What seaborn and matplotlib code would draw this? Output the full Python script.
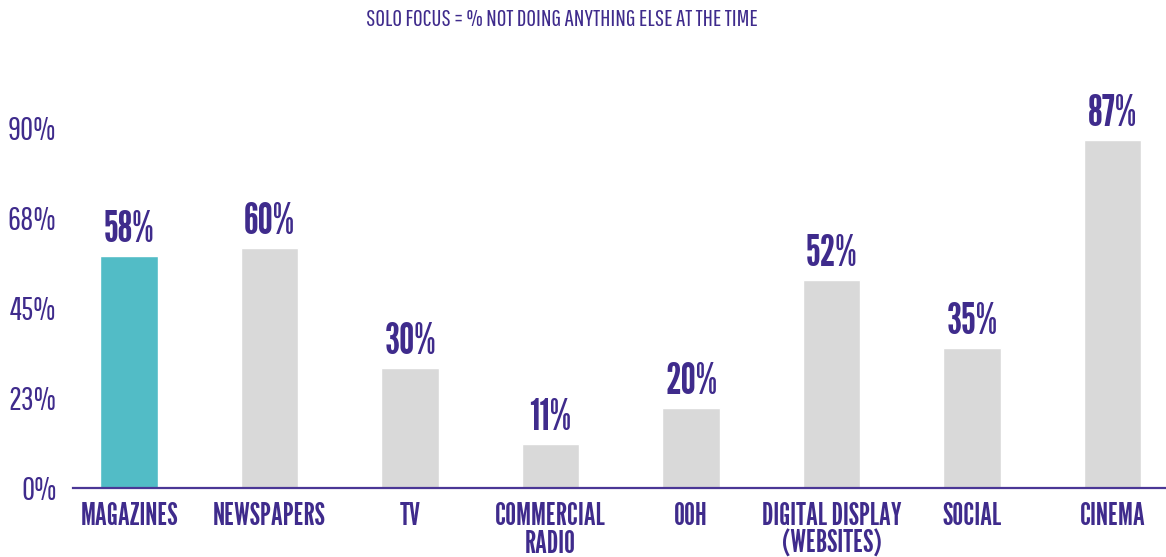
import matplotlib
matplotlib.use("Agg")
import matplotlib.pyplot as plt
import seaborn as sns
import pandas as pd

categories = ["MAGAZINES", "NEWSPAPERS", "TV", "COMMERCIAL\nRADIO", "OOH",
              "DIGITAL DISPLAY\n(WEBSITES)", "SOCIAL", "CINEMA"]
solo_focus = [58, 60, 30, 11, 20, 52, 35, 87]
tick_values = [0, 22.5, 45, 67.5, 90]
tick_labels = ["0%", "23%", "45%", "68%", "90%"]
title = "SOLO FOCUS = % NOT DOING ANYTHING ELSE AT THE TIME"

PURPLE = "#3f2b8c"
TEAL = "#52bcc6"
GREY = "#d9d9d9"

BOLD_FONT = ["League Gothic", "DejaVu Sans"]
LIGHT_FONT = ["Pathway Gothic One", "DejaVu Sans"]

sns.set_style("white")
plt.rcParams["font.family"] = LIGHT_FONT

df = pd.DataFrame({"medium": categories, "focus": solo_focus})
palette = {c: (TEAL if i == 0 else GREY) for i, c in enumerate(categories)}

fig = plt.figure(figsize=(11.66, 5.57), dpi=100)
ax = fig.add_axes([0.0626, 0.1239, 0.9374, 0.668])

sns.barplot(data=df, x="medium", y="focus", hue="medium", palette=palette,
            width=0.41, legend=False, ax=ax, saturation=1)

for i, v in enumerate(solo_focus):
    ax.text(i, v + 1.6, f"{v}%", ha="center", va="bottom", color=PURPLE,
            fontsize=31, family=BOLD_FONT, clip_on=False)

ax.set_xlim(-0.4, 7.38)
ax.set_ylim(0, 93)
ax.set_yticks(tick_values)
ax.set_yticklabels(tick_labels)
ax.set_xlabel("")
ax.set_ylabel("")

for s in ["top", "right", "left"]:
    ax.spines[s].set_visible(False)
ax.spines["bottom"].set_color("#4b3796")
ax.spines["bottom"].set_linewidth(1.6)

ax.tick_params(axis="y", length=0, pad=12, labelsize=23, labelcolor=PURPLE)
ax.tick_params(axis="x", length=0, pad=10, labelsize=22, labelcolor=PURPLE)
for lbl in ax.get_xticklabels():
    lbl.set_family(BOLD_FONT)
    lbl.set_linespacing(0.95)
    lbl.set_verticalalignment("top")
for lbl in ax.get_yticklabels():
    lbl.set_horizontalalignment("right")

fig.text(0.482, 0.965, title, ha="center", va="center", color=PURPLE,
         fontsize=17, family=LIGHT_FONT)

fig.savefig("out.png", dpi=100)
